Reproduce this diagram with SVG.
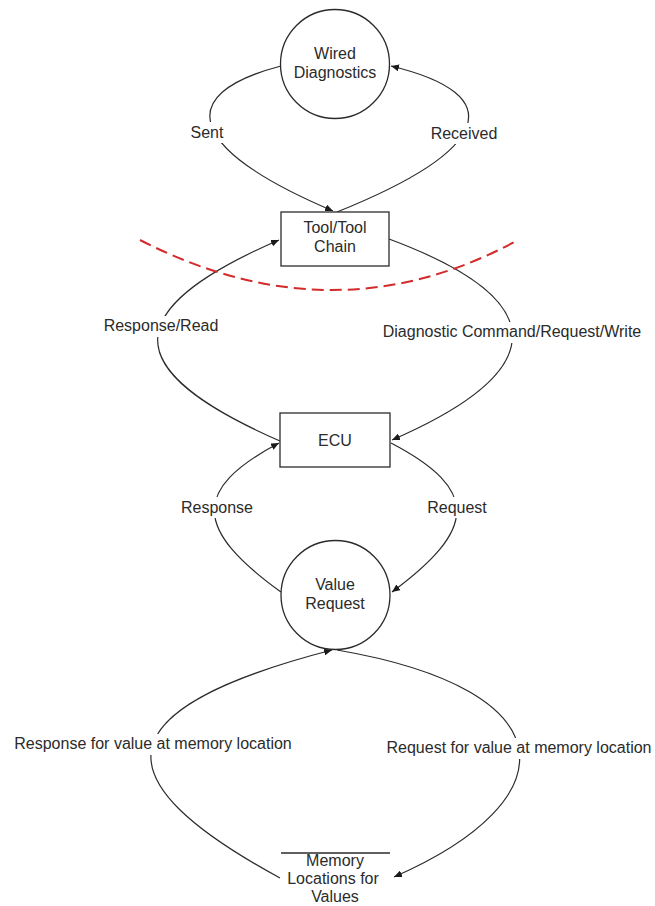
<svg xmlns="http://www.w3.org/2000/svg" width="655" height="906" viewBox="0 0 655 906">
  <style>
    .node { fill: #ffffff; stroke: #2b2b2b; stroke-width: 1.3; }
    .edge { fill: none; stroke: #2b2b2b; stroke-width: 1.2; marker-end: url(#arrow); }
    .label { font-family: "Liberation Sans", Arial, sans-serif; font-size: 16px; fill: #2b2b2b; text-anchor: middle; }
    .label-bg { fill: #ffffff; }
    .boundary { fill: none; stroke: #d42a2a; stroke-width: 2; stroke-dasharray: 12 6; }
  </style>
  <defs>
    <marker id="arrow" markerUnits="userSpaceOnUse" markerWidth="9" markerHeight="7" refX="8" refY="3.5" orient="auto">
      <path d="M0,0 L8,3.5 L0,7 z" fill="#1a1a1a"/>
    </marker>
  </defs>

  <rect width="655" height="906" fill="#ffffff"/>

  <!-- data flows -->
  <g id="connectors">
    <path id="flow-sent" class="edge" d="M281,66 C170,95 190,150 333,211"/>
    <path id="flow-received" class="edge" d="M337,212 C491,150 511,95 391,66"/>
    <path id="flow-response-read" class="edge" d="M280,441 C117,370 117,310 279,240"/>
    <path id="flow-diagnostic-command" class="edge" d="M389,239 C553,300 553,370 392,440"/>
    <path id="flow-response" class="edge" d="M281,592 C195,530 190,490 279,443"/>
    <path id="flow-request" class="edge" d="M391,443 C481,490 476,530 392,592"/>
    <path id="flow-memory-response" class="edge" d="M280,878 C100,780 100,710 332,650"/>
    <path id="flow-memory-request" class="edge" d="M337,650 C570,690 570,800 394,877"/>
  </g>

  <!-- flow labels, each masking its stretch of line -->
  <g id="connector-labels">
    <rect class="label-bg" x="188" y="122" width="38" height="21"/>
    <text class="label" x="207" y="138">Sent</text>
    <rect class="label-bg" x="429" y="123" width="71" height="21"/>
    <text class="label" x="464" y="139">Received</text>
    <rect class="label-bg" x="102" y="316" width="119" height="21"/>
    <text class="label" x="161" y="331">Response/Read</text>
    <rect class="label-bg" x="381" y="322" width="263" height="21"/>
    <text class="label" x="512" y="337">Diagnostic Command/Request/Write</text>
    <rect class="label-bg" x="180" y="497" width="76" height="21"/>
    <text class="label" x="217" y="513">Response</text>
    <rect class="label-bg" x="427" y="497" width="63" height="21"/>
    <text class="label" x="457" y="513">Request</text>
    <rect class="label-bg" x="13" y="734" width="281" height="21"/>
    <text class="label" x="153" y="749">Response for value at memory location</text>
    <rect class="label-bg" x="386" y="738" width="268" height="21"/>
    <text class="label" x="519" y="753">Request for value at memory location</text>
  </g>

  <!-- trust boundary -->
  <path id="trust-boundary" class="boundary" d="M140,240 Q335,340 518,240"/>

  <g id="wired-diagnostics">
    <circle class="node" cx="335" cy="64" r="54.5"/>
    <text class="label" x="335" y="59">Wired</text>
    <text class="label" x="335" y="78">Diagnostics</text>
  </g>

  <g id="tool-chain">
    <rect class="node" x="281" y="212" width="108" height="54"/>
    <text class="label" x="335" y="233">Tool/Tool</text>
    <text class="label" x="335" y="252">Chain</text>
  </g>

  <g id="ecu">
    <rect class="node" x="280" y="413" width="110" height="54"/>
    <text class="label" x="335" y="446">ECU</text>
  </g>

  <g id="value-request">
    <circle class="node" cx="335.5" cy="595" r="54.5"/>
    <text class="label" x="335" y="590">Value</text>
    <text class="label" x="335" y="609">Request</text>
  </g>

  <g id="memory-locations">
    <line x1="281" y1="853" x2="390" y2="853" stroke="#2b2b2b" stroke-width="1.3"/>
    <text class="label" x="335" y="866">Memory</text>
    <text class="label" x="333" y="884">Locations for</text>
    <text class="label" x="335" y="902">Values</text>
  </g>
</svg>
